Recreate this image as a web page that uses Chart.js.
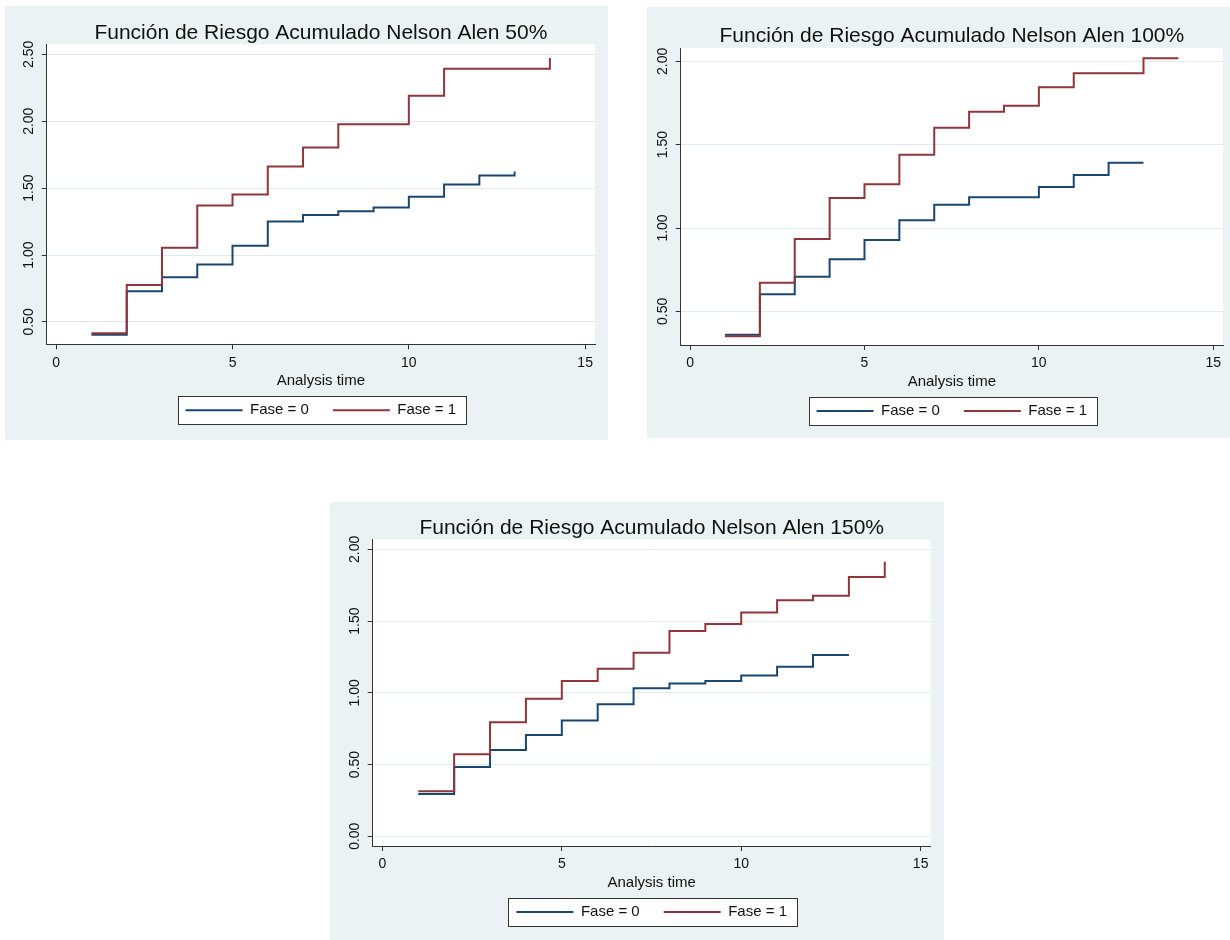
<!DOCTYPE html>
<html>
<head>
<meta charset="utf-8">
<script src="https://cdn.jsdelivr.net/npm/chart.js@4/dist/chart.umd.min.js"></script>
<style>
  body { margin: 0; background: #fff; width: 1230px; height: 940px; position: relative; overflow: hidden; }
  canvas { position: absolute; }
</style>
</head>
<body>
<canvas id="c50" width="603" height="434" style="left:5px;top:6px"></canvas>
<canvas id="c100" width="583" height="431" style="left:647px;top:7px"></canvas>
<canvas id="c150" width="614" height="438" style="left:330px;top:502px"></canvas>
<script>
// analysis times
const times0 = [1, 2, 3, 4, 5, 6, 7, 8, 9, 10, 11, 12, 13];
const times1 = [1, 2, 3, 4, 5, 6, 7, 8, 9, 10, 11, 12, 13, 14];

// Nelson-Aalen cumulative hazard
const fase0_50 = [0.405, 0.73, 0.835, 0.93, 1.07, 1.25, 1.30, 1.327, 1.355, 1.436, 1.528, 1.595, 1.625];
const fase1_50 = [0.415, 0.777, 1.055, 1.37, 1.452, 1.662, 1.803, 1.978, 1.978, 2.19, 2.392, 2.392, 2.392, 2.472];

const fase0_100 = [0.36, 0.602, 0.708, 0.812, 0.928, 1.046, 1.14, 1.184, 1.184, 1.246, 1.318, 1.392, 1.392];
const fase1_100 = [0.35, 0.672, 0.934, 1.18, 1.262, 1.44, 1.602, 1.698, 1.734, 1.844, 1.928, 1.928, 2.018, 2.018];

const fase0_150 = [0.295, 0.483, 0.602, 0.706, 0.806, 0.92, 1.031, 1.064, 1.082, 1.12, 1.182, 1.264, 1.264];
const fase1_150 = [0.314, 0.571, 0.794, 0.959, 1.082, 1.168, 1.28, 1.431, 1.48, 1.559, 1.645, 1.677, 1.807, 1.914];

const xTicks = [0, 5, 10, 15];
const yTicks50 = [0.5, 1, 1.5, 2, 2.5];
const yTicks100 = [0.5, 1, 1.5, 2];
const yTicks150 = [0, 0.5, 1, 1.5, 2];

const NAVY = '#1a476f';
const MAROON = '#90353b';
const BG = '#eaf2f3';
const INK = '#111';

Chart.defaults.font.family = "'Liberation Sans', Arial, sans-serif";

const framePlugin = {
  id: 'frame',
  beforeDraw(chart) {
    const { ctx, chartArea: a, width, height } = chart;
    ctx.save();
    ctx.fillStyle = BG;
    ctx.fillRect(0, 0, width, height);
    ctx.fillStyle = '#fff';
    ctx.fillRect(a.left, a.top, a.right - a.left, a.bottom - a.top);
    const boxes = chart.legend && chart.legend.legendHitBoxes;
    if (boxes && boxes.length) {
      const first = boxes[0], last = boxes[boxes.length - 1];
      const cy = first.top + first.height / 2;
      const l = Math.round(first.left - 8), r = Math.round(last.left + last.width + 10);
      const t = Math.round(cy - 14);
      ctx.fillRect(l, t, r - l, 28);
      ctx.strokeStyle = '#333';
      ctx.lineWidth = 1;
      ctx.strokeRect(l + 0.5, t + 0.5, r - l, 28);
    }
    ctx.restore();
  },
  afterDraw(chart) {
    // rotated y tick labels, as in Stata
    const { ctx, chartArea: a } = chart;
    const ys = chart.scales.y;
    ctx.save();
    ctx.fillStyle = INK;
    ctx.font = "14px 'Liberation Sans', Arial, sans-serif";
    ctx.textAlign = 'center';
    ctx.textBaseline = 'middle';
    ys.ticks.forEach(t => {
      const y = ys.getPixelForValue(t.value);
      ctx.save();
      ctx.translate(a.left - 17.5, y);
      ctx.rotate(-Math.PI / 2);
      ctx.fillText(t.value.toFixed(2), 0, 0);
      ctx.restore();
    });
    ctx.restore();
  }
};

function makeChart(id, title, f0, f1, yMin, yMax, yTicks, target) {
  const pad = { left: 30, top: 10, right: 10, bottom: 10 };
  const chart = new Chart(document.getElementById(id), {
    type: 'line',
    data: {
      datasets: [
        {
          label: 'Fase = 0',
          data: times0.map((t, i) => ({ x: t, y: f0[i] })),
          borderColor: NAVY,
          borderWidth: 2,
          stepped: true,
          pointRadius: 0,
          order: 1
        },
        {
          label: 'Fase = 1',
          data: times1.map((t, i) => ({ x: t, y: f1[i] })),
          borderColor: MAROON,
          borderWidth: 2,
          stepped: true,
          pointRadius: 0,
          order: 0
        }
      ]
    },
    options: {
      responsive: false,
      animation: false,
      events: [],
      layout: { padding: pad },
      plugins: {
        title: {
          display: true,
          text: title,
          color: INK,
          fullSize: false,
          font: { size: 21, weight: 'normal', lineHeight: 1.2 },
          padding: { top: 0, bottom: -1.3 }
        },
        legend: {
          position: 'bottom',
          fullSize: false,
          labels: {
            color: INK,
            font: { size: 15 },
            usePointStyle: true,
            pointStyle: 'line',
            pointStyleWidth: 57,
            boxHeight: 15,
            padding: 24,
            sort: (a, b) => a.datasetIndex - b.datasetIndex
          }
        },
        tooltip: { enabled: false }
      },
      scales: {
        x: {
          type: 'linear',
          min: -0.27,
          max: 15.28,
          afterBuildTicks: s => { s.ticks = xTicks.map(v => ({ value: v })); },
          ticks: { color: INK, font: { size: 14 }, padding: 5 },
          grid: { drawOnChartArea: false, drawTicks: true, tickLength: 5, tickColor: '#333' },
          border: { color: '#333', width: 1 },
          title: {
            display: true,
            text: 'Analysis time',
            color: INK,
            font: { size: 15 },
            padding: { top: -4, bottom: -11.3 }
          }
        },
        y: {
          min: yMin,
          max: yMax,
          afterBuildTicks: s => { s.ticks = yTicks.map(v => ({ value: v })); },
          ticks: { display: false },
          grid: { color: '#e1eaed', lineWidth: 1, drawTicks: true, tickLength: 5, tickColor: '#333' },
          border: { color: '#333', width: 1 }
        }
      }
    },
    plugins: [framePlugin]
  });

  // nudge the layout padding so the plot region lands where the reference has it
  for (let k = 0; k < 4; k++) {
    const a = chart.chartArea;
    const dl = target.left - a.left, dt = target.top - a.top;
    const dr = a.right - target.right, db = a.bottom - target.bottom;
    if (Math.abs(dl) + Math.abs(dt) + Math.abs(dr) + Math.abs(db) < 0.3) break;
    pad.left += dl; pad.top += dt; pad.right += dr; pad.bottom += db;
    chart.update('none');
  }
  return chart;
}

makeChart('c50', 'Función de Riesgo Acumulado Nelson Alen 50%', fase0_50, fase1_50, 0.333, 2.575, yTicks50,
  { left: 41.7, top: 38.3, right: 590, bottom: 338.3 });
makeChart('c100', 'Función de Riesgo Acumulado Nelson Alen 100%', fase0_100, fase1_100, 0.298, 2.08, yTicks100,
  { left: 33.7, top: 41, right: 576, bottom: 338 });
makeChart('c150', 'Función de Riesgo Acumulado Nelson Alen 150%', fase0_150, fase1_150, -0.068, 2.07, yTicks150,
  { left: 42.7, top: 37.3, right: 600.7, bottom: 344 });
</script>
</body>
</html>
